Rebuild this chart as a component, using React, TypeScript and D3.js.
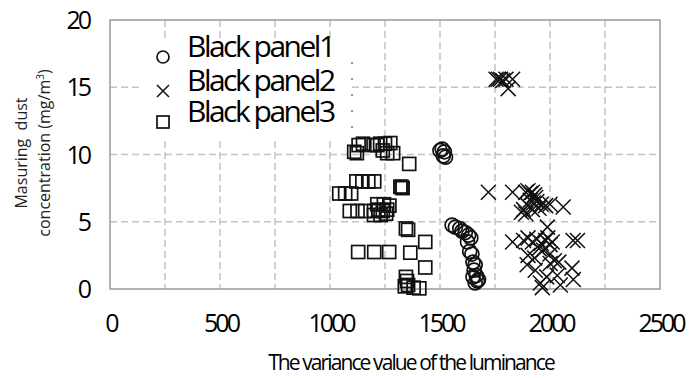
import React from "react";
import * as d3 from "d3";

// Measured dust concentration versus luminance variance for three black panels
const panel1: [number, number][] = [
  [1500, 10.3], [1510, 10.4], [1520, 10.2], [1515, 9.9], [1525, 9.8],
  [1555, 4.75], [1570, 4.6], [1590, 4.5], [1600, 4.3], [1615, 4.2],
  [1630, 4.0], [1640, 3.8], [1625, 3.5], [1635, 2.8], [1645, 2.6],
  [1650, 2.0], [1660, 1.8], [1655, 1.4], [1665, 1.0], [1650, 0.9],
  [1670, 0.6], [1660, 0.45], [1675, 0.7],
];

const panel2: [number, number][] = [
  [1755, 15.6], [1765, 15.6], [1775, 15.6], [1785, 15.5], [1800, 15.6],
  [1830, 15.6], [1810, 14.9],
  [1720, 7.2], [1830, 7.2], [1890, 7.2], [1900, 7.3], [1910, 7.1],
  [1920, 7.2], [1930, 7.0], [1935, 6.8], [1910, 6.6], [1925, 6.4],
  [1940, 6.5], [1960, 6.3], [1980, 6.2], [1900, 6.2], [1880, 5.9],
  [1870, 5.7], [1890, 5.6], [1920, 5.9], [1950, 6.0], [2000, 6.3],
  [2060, 6.1],
  [1988, 4.6], [1830, 3.5], [1880, 3.6], [1900, 3.8], [1920, 3.5],
  [1940, 3.7], [1960, 3.4], [1980, 3.6], [2000, 3.3], [1950, 3.0],
  [1970, 2.9], [1990, 3.8], [2010, 3.5], [2105, 3.6], [2125, 3.6],
  [1900, 2.5], [1930, 2.3], [2000, 2.6], [2020, 2.1], [2040, 2.0],
  [1896, 1.8], [1933, 1.4], [1956, 0.45], [1965, 0.1], [2033, 1.0],
  [2047, 0.3], [2100, 1.55], [2106, 0.7], [2001, 1.9], [1985, 0.9],
];

const panel3: [number, number][] = [
  [1130, 10.7], [1150, 10.8], [1198, 10.7], [1215, 10.7], [1228, 10.8],
  [1250, 10.8], [1274, 10.85], [1122, 10.1], [1110, 10.2], [1240, 10.3],
  [1260, 10.1], [1287, 10.1], [1360, 9.3],
  [1120, 8.0], [1147, 8.0], [1174, 8.0], [1201, 8.0],
  [1042, 7.1], [1069, 7.1], [1096, 7.1],
  [1320, 7.6], [1325, 7.6], [1330, 7.5],
  [1090, 5.8], [1125, 5.8], [1160, 5.8], [1200, 5.8], [1220, 5.9],
  [1240, 5.8], [1260, 5.9], [1215, 6.3], [1245, 6.3], [1270, 6.2],
  [1200, 5.5], [1230, 5.5], [1255, 5.6],
  [1345, 4.5], [1355, 4.4], [1433, 3.5],
  [1128, 2.75], [1201, 2.75], [1269, 2.75], [1365, 2.7],
  [1433, 1.6], [1345, 0.9], [1350, 0.6], [1355, 0.3], [1340, 0.2],
  [1406, 0.05], [1380, 0.1],
];

const xTicks = [0, 500, 1000, 1500, 2000, 2500];
const yTicks = [0, 5, 10, 15, 20];
const xGrid = d3.range(250, 2500, 250);
const seriesNames = ["Black panel1", "Black panel2", "Black panel3"];

const W = 693;
const H = 378;
const left = 110;
const right = 660;
const top = 20;
const bottom = 289;

const x = d3.scaleLinear().domain([0, 2500]).range([left, right]);
const y = d3.scaleLinear().domain([0, 20]).range([bottom, top]);

const font = "'Open Sans', 'DejaVu Sans', sans-serif";

function Circle({ cx, cy, r }: { cx: number; cy: number; r: number }) {
  return <circle cx={cx} cy={cy} r={r} fill="none" stroke="#111" strokeWidth={1.7} />;
}
function Cross({ cx, cy, s }: { cx: number; cy: number; s: number }) {
  return (
    <path
      d={`M${cx - s},${cy - s}L${cx + s},${cy + s}M${cx - s},${cy + s}L${cx + s},${cy - s}`}
      stroke="#111"
      strokeWidth={1.5}
      fill="none"
    />
  );
}
function Square({ cx, cy, s }: { cx: number; cy: number; s: number }) {
  return (
    <rect x={cx - s} y={cy - s} width={2 * s} height={2 * s} fill="none" stroke="#111" strokeWidth={1.7} />
  );
}

export default function App() {
  const legendX = 163;
  const legendY = [57, 91, 122];
  return (
    <svg
      width={W}
      height={H}
      style={{ position: "absolute", left: 0, top: 0, background: "#fff" }}
    >
      {/* grid */}
      <g stroke="#c4c4c4" strokeWidth={1.5} strokeDasharray="7,4">
        {xGrid.map((v) => (
          <line key={"gx" + v} x1={x(v)} x2={x(v)} y1={top} y2={bottom} />
        ))}
        {yTicks.slice(1, -1).map((v) => (
          <line key={"gy" + v} x1={left} x2={right} y1={y(v)} y2={y(v)} />
        ))}
      </g>
      {/* frame */}
      <rect
        x={left}
        y={top}
        width={right - left}
        height={bottom - top}
        fill="none"
        stroke="#999"
        strokeWidth={1.5}
      />

      {/* legend box */}
      <rect x={143} y={40} width={209} height={98} fill="#fff" />
      <line x1={352} x2={352} y1={62} y2={128} stroke="#333" strokeWidth={1} strokeDasharray="2,14" />
      <Circle cx={legendX} cy={legendY[0]} r={6} />
      <Cross cx={legendX} cy={legendY[1]} s={6} />
      <Square cx={legendX} cy={legendY[2]} s={6} />
      {seriesNames.map((n, i) => (
        <text
          key={n}
          x={187}
          y={legendY[i]}
          fontFamily={font}
          fontSize={30}
          letterSpacing={-2.5}
          fill="#000"
        >
          {n}
        </text>
      ))}

      {/* markers */}
      {panel3.map(([a, b], i) => (
        <Square key={"s" + i} cx={x(a)} cy={y(b)} s={6.5} />
      ))}
      {panel1.map(([a, b], i) => (
        <Circle key={"c" + i} cx={x(a)} cy={y(b)} r={7} />
      ))}
      {panel2.map(([a, b], i) => (
        <Cross key={"x" + i} cx={x(a)} cy={y(b)} s={7.5} />
      ))}

      {/* tick labels */}
      {xTicks.map((v) => (
        <text
          key={"xt" + v}
          x={x(v) + 1}
          y={332}
          textAnchor="middle"
          fontFamily={font}
          fontSize={25}
          letterSpacing={-3}
        >
          {v}
        </text>
      ))}
      {yTicks.map((v) => (
        <text
          key={"yt" + v}
          x={89}
          y={y(v)}
          dy="0.36em"
          textAnchor="end"
          fontFamily={font}
          fontSize={25}
          letterSpacing={-3}
        >
          {v}
        </text>
      ))}

      {/* axis titles */}
      <text
        x={411}
        y={370}
        textAnchor="middle"
        fontFamily={font}
        fontSize={21}
        letterSpacing={-1.9}
      >
        The variance value of the luminance
      </text>
      <g transform="translate(27,153) rotate(-90)">
        <text textAnchor="middle" fontFamily={font} fontSize={16} fill="#222" xmlSpace="preserve">
          Masuring  dust
        </text>
      </g>
      <g transform="translate(50,153) rotate(-90)">
        <text textAnchor="middle" fontFamily={font} fontSize={16} fill="#222">
          concentration (mg/m<tspan dy={-6} fontSize={10}>3</tspan>
          <tspan dy={6}>)</tspan>
        </text>
      </g>
    </svg>
  );
}
